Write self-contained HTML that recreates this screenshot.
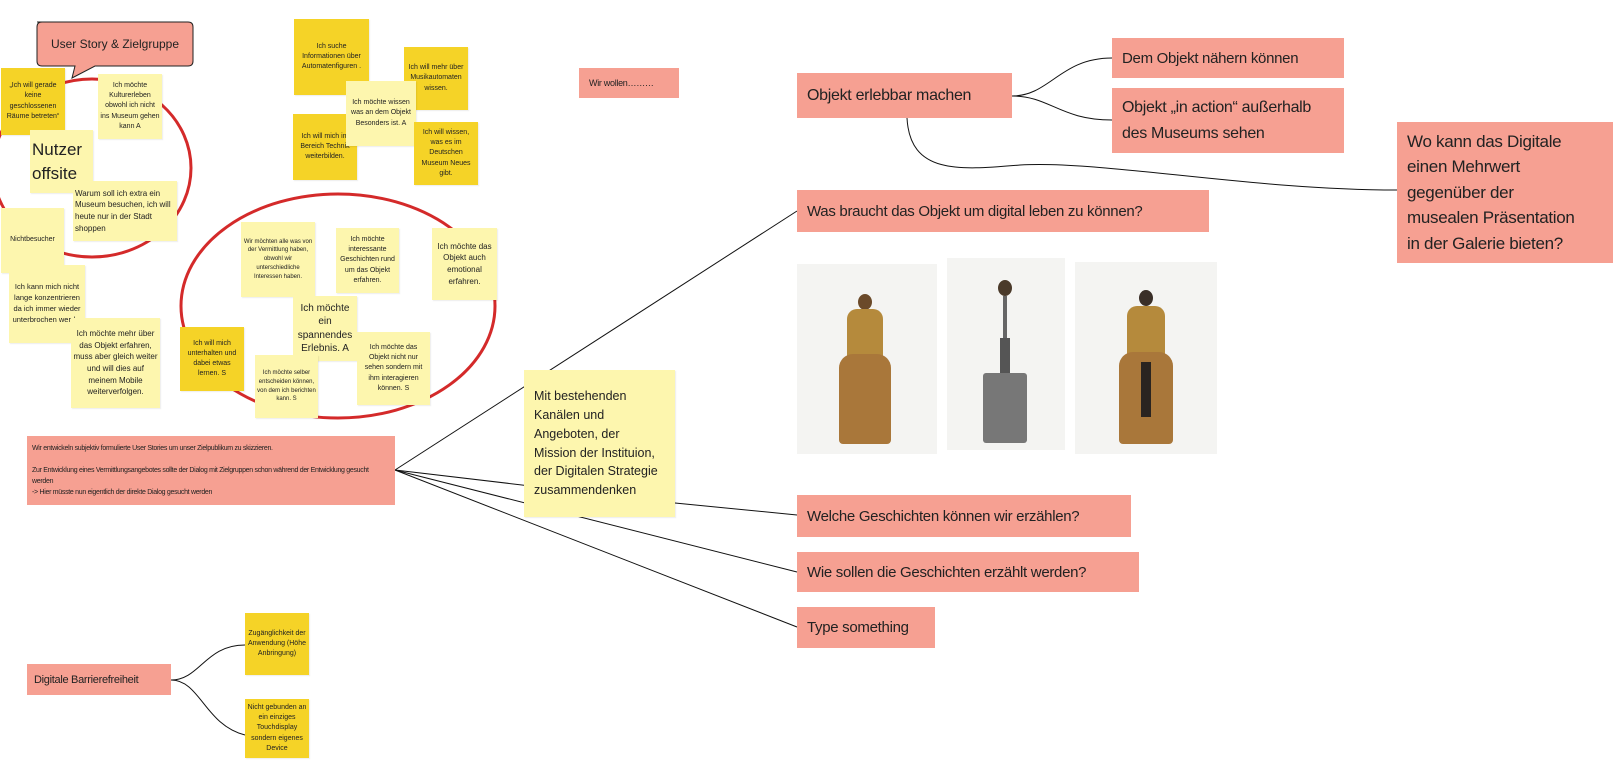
<!DOCTYPE html>
<html><head><meta charset="utf-8"><style>
body{margin:0;width:1620px;height:770px;background:#fff;position:relative;overflow:hidden;font-family:"Liberation Sans",sans-serif;}
.s{position:absolute;display:flex;align-items:center;justify-content:center;text-align:center;font-size:7px;line-height:1.45;color:#222;box-shadow:1px 1px 1px rgba(0,0,0,.08);padding:2px;box-sizing:border-box;}
.d{background:#f5d327;}
.l{background:#fdf6ae;}
.p{position:absolute;background:#f6a092;color:#222;display:flex;align-items:center;box-sizing:border-box;padding:0 10px;letter-spacing:-0.3px;}
.img{position:absolute;background:#f4f4f2;}
</style></head><body>
<svg width="1620" height="770" style="position:absolute;left:0;top:0">
<g fill="none" stroke="#111" stroke-width="1">
<path d="M395,470 L797,211"/>
<path d="M395,470 L675,503 L797,515"/>
<path d="M395,470 L797,572"/>
<path d="M395,470 L797,627"/>
<path d="M1012,96 C1050,96 1060,58 1112,58"/>
<path d="M1012,96 C1050,96 1060,120 1112,120"/>
<path d="M907,118 C910,175 960,170 1020,165 C1100,160 1250,190 1397,190"/>
<path d="M171,680 C200,680 205,645 245,645"/>
<path d="M171,680 C200,680 205,725 245,735"/>
</g>
<g fill="none" stroke="#d42a2a" stroke-width="3">
<ellipse cx="92" cy="168" rx="99" ry="89"/>
<ellipse cx="338" cy="306" rx="157" ry="112"/>
</g>
<path d="M37,22 H188 Q193,22 193,27 V61 Q193,66 188,66 H95 L72,78 L75,66 H42 Q37,66 37,61 V27 Q37,22 42,22Z" fill="#f6a092" stroke="#222" stroke-width="1"/>
<text x="115" y="48" font-family="Liberation Sans" font-size="12" text-anchor="middle" fill="#222">User Story &amp; Zielgruppe</text>
</svg>

<div class="s d" style="left:1px;top:68px;width:64px;height:67px">„Ich will gerade keine geschlossenen Räume betreten“</div>
<div class="s l" style="left:98px;top:74px;width:64px;height:65px">Ich möchte Kulturerleben obwohl ich nicht ins Museum gehen kann A</div>
<div class="s l" style="left:30px;top:130px;width:63px;height:63px;font-size:17px;line-height:1.4;justify-content:flex-start;text-align:left">Nutzer offsite</div>
<div class="s l" style="left:73px;top:181px;width:104px;height:60px;font-size:8px;text-align:left">Warum soll ich extra ein Museum besuchen, ich will heute nur in der Stadt shoppen</div>
<div class="s l" style="left:1px;top:208px;width:63px;height:65px">Nichtbesucher</div>
<div class="s l" style="left:9px;top:265px;width:76px;height:78px;font-size:7.5px">Ich kann mich nicht lange konzentrieren da ich immer wieder unterbrochen werde.</div>
<div class="s l" style="left:71px;top:318px;width:89px;height:90px;font-size:8px">Ich möchte mehr über das Objekt erfahren, muss aber gleich weiter und will dies auf meinem Mobile weiterverfolgen.</div>
<div class="s d" style="left:294px;top:19px;width:75px;height:76px">Ich suche Informationen über Automatenfiguren .</div>
<div class="s d" style="left:404px;top:47px;width:64px;height:63px">Ich will mehr über Musikautomaten wissen.</div>
<div class="s d" style="left:293px;top:114px;width:64px;height:66px">Ich will mich im Bereich Technik weiterbilden.</div>
<div class="s l" style="left:346px;top:81px;width:70px;height:65px">Ich möchte wissen was an dem Objekt Besonders ist. A</div>
<div class="s d" style="left:414px;top:122px;width:64px;height:63px">Ich will wissen, was es im Deutschen Museum Neues gibt.</div>
<div class="s l" style="left:241px;top:222px;width:74px;height:75px;font-size:6px">Wir möchten alle was von der Vermittlung haben, obwohl wir unterschiedliche Interessen haben.</div>
<div class="s l" style="left:336px;top:228px;width:63px;height:65px">Ich möchte interessante Geschichten rund um das Objekt erfahren.</div>
<div class="s l" style="left:432px;top:228px;width:65px;height:72px;font-size:8px">Ich möchte das Objekt auch emotional erfahren.</div>
<div class="s l" style="left:293px;top:296px;width:64px;height:65px;font-size:10px;line-height:1.35">Ich möchte ein spannendes Erlebnis. A</div>
<div class="s d" style="left:180px;top:327px;width:64px;height:64px">Ich will mich unterhalten und dabei etwas lernen. S</div>
<div class="s l" style="left:255px;top:355px;width:63px;height:63px;font-size:6px">Ich möchte selber entscheiden können, von dem ich berichten kann. S</div>
<div class="s l" style="left:357px;top:332px;width:73px;height:73px">Ich möchte das Objekt nicht nur sehen sondern mit ihm interagieren können. S</div>

<div class="p" style="left:27px;top:436px;width:368px;height:69px;font-size:7px;line-height:1.6;padding:0 5px">Wir entwickeln subjektiv formulierte User Stories um unser Zielpublikum zu skizzieren.<br><br>Zur Entwicklung eines Vermittlungsangebotes sollte der Dialog mit Zielgruppen schon während der Entwicklung gesucht werden<br>-&gt; Hier müsste nun eigentlich der direkte Dialog gesucht werden</div>
<div class="p" style="left:579px;top:68px;width:100px;height:30px;font-size:9px">Wir wollen………</div>
<div class="p" style="left:27px;top:664px;width:144px;height:31px;font-size:11px;padding:0 7px">Digitale Barrierefreiheit</div>
<div class="s d" style="left:245px;top:613px;width:64px;height:62px">Zugänglichkeit der Anwendung (Höhe Anbringung)</div>
<div class="s d" style="left:245px;top:699px;width:64px;height:59px">Nicht gebunden an ein einziges Touchdisplay sondern eigenes Device</div>
<div class="s l" style="left:524px;top:370px;width:151px;height:147px;font-size:12.5px;line-height:1.5;text-align:left;justify-content:flex-start;padding:0 10px">Mit bestehenden Kanälen und Angeboten, der Mission der Instituion, der Digitalen Strategie zusammendenken</div>

<div class="p" style="left:797px;top:73px;width:215px;height:45px;font-size:16px">Objekt erlebbar machen</div>
<div class="p" style="left:1112px;top:38px;width:232px;height:40px;font-size:15px">Dem Objekt nähern können</div>
<div class="p" style="left:1112px;top:88px;width:232px;height:65px;font-size:16px;line-height:1.6;padding-right:30px">Objekt „in action“ außerhalb des Museums sehen</div>
<div class="p" style="left:1397px;top:122px;width:216px;height:141px;font-size:17px;line-height:1.5;padding-right:30px">Wo kann das Digitale einen Mehrwert gegenüber der musealen Präsentation in der Galerie bieten?</div>
<div class="p" style="left:797px;top:190px;width:412px;height:42px;font-size:15px">Was braucht das Objekt um digital leben zu können?</div>
<div class="p" style="left:797px;top:495px;width:334px;height:42px;font-size:15px">Welche Geschichten können wir erzählen?</div>
<div class="p" style="left:797px;top:552px;width:342px;height:40px;font-size:15px">Wie sollen die Geschichten erzählt werden?</div>
<div class="p" style="left:797px;top:607px;width:138px;height:41px;font-size:15px">Type something</div>

<div class="img" style="left:797px;top:264px;width:140px;height:190px">
 <div style="position:absolute;left:61px;top:30px;width:14px;height:16px;border-radius:50%;background:#6b4a2a"></div>
 <div style="position:absolute;left:50px;top:45px;width:36px;height:55px;background:#b58a3c;border-radius:10px 10px 2px 2px"></div>
 <div style="position:absolute;left:42px;top:90px;width:52px;height:90px;background:#a9773a;border-radius:14px 14px 4px 4px"></div>
</div>
<div class="img" style="left:947px;top:258px;width:118px;height:192px">
 <div style="position:absolute;left:51px;top:22px;width:14px;height:16px;border-radius:50%;background:#4a3a2a"></div>
 <div style="position:absolute;left:56px;top:38px;width:4px;height:45px;background:#666"></div>
 <div style="position:absolute;left:53px;top:80px;width:10px;height:38px;background:#555"></div>
 <div style="position:absolute;left:36px;top:115px;width:44px;height:70px;background:#777;border-radius:3px"></div>
</div>
<div class="img" style="left:1075px;top:262px;width:142px;height:192px">
 <div style="position:absolute;left:64px;top:28px;width:14px;height:16px;border-radius:50%;background:#3a2f28"></div>
 <div style="position:absolute;left:52px;top:44px;width:38px;height:55px;background:#b58a3c;border-radius:10px 10px 2px 2px"></div>
 <div style="position:absolute;left:44px;top:90px;width:54px;height:92px;background:#a9773a;border-radius:14px 14px 4px 4px"></div>
 <div style="position:absolute;left:66px;top:100px;width:10px;height:55px;background:#2a2420"></div>
</div>
</body></html>
